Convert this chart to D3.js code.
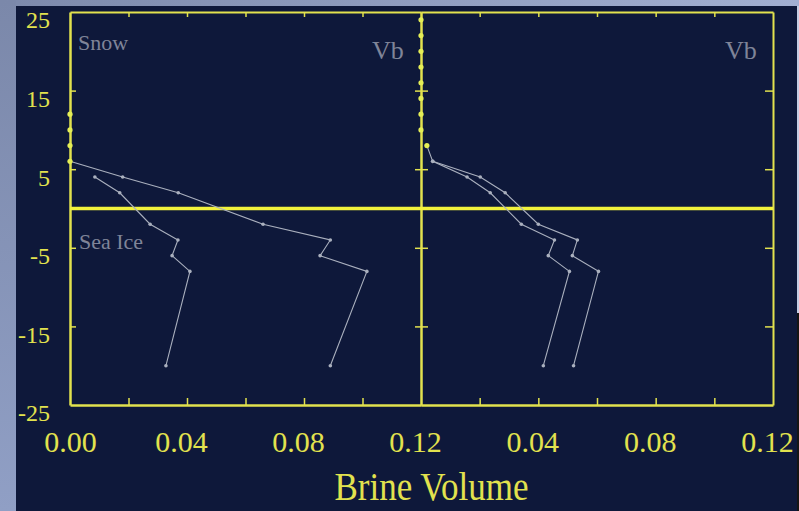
<!DOCTYPE html>
<html>
<head>
<meta charset="utf-8">
<script src="https://cdn.jsdelivr.net/npm/d3@7/dist/d3.min.js"></script>
<style>
  html, body { margin: 0; padding: 0; background: #0e183a; overflow: hidden; }
  svg { display: block; }
  text { font-family: "Liberation Serif", "DejaVu Serif", serif; }
</style>
</head>
<body>
<svg id="chart" width="799" height="511"></svg>
<script>
// Brine volume profiles through snow and sea ice (depth in cm, 0 = snow/ice interface)
const iceDepth        = [6, 4, 2, -2, -4, -6, -8, -20];
const vbLeftOuter     = [0, 0.018, 0.037, 0.066, 0.089, 0.0855, 0.1015, 0.089];
const vbLeftInner     = [null, 0.0085, 0.017, 0.0274, 0.0369, 0.0349, 0.041, 0.0328];
const snowDepthLeft   = [12, 10, 8, 6];

const rightDepth      = [8, 6, 4, 2, -2, -4, -6, -8, -20];
const vbRightInner    = [0.002, 0.004, 0.0157, 0.0236, 0.0342, 0.0455, 0.0434, 0.0506, 0.0417];
const vbRightOuter    = [null, 0.004, 0.0202, 0.0287, 0.040, 0.0533, 0.0516, 0.0605, 0.052];
const snowDepthRight  = [24, 22, 20, 18, 16, 14, 12, 10, 8];
const snowVbRight     = [0, 0, 0, 0, 0, 0, 0, 0, 0.002];

const depthTicks      = [25, 15, 5, -5, -15, -25];
const vbLabelsLeft    = [0, 0.04, 0.08, 0.12];
const vbLabelsRight   = [0.04, 0.08, 0.12];
const vbMinorTicks    = [0.02, 0.04, 0.06, 0.08, 0.10];
const interfaceDepth  = 0;

const svg = d3.select("#chart");
const W = 799, H = 511;

const yellow = "#e2e24e";
const yellowBright = "#f2f23c";
const grey = "#aab0be";
const dimText = "#7f8498";

// page backdrop: dark panel with the blue slide frame on the left and top
const defs = svg.append("defs");
const gv = defs.append("linearGradient").attr("id", "frameV").attr("x1", 0).attr("y1", 0).attr("x2", 0).attr("y2", 1);
gv.append("stop").attr("offset", 0).attr("stop-color", "#7b88aa");
gv.append("stop").attr("offset", 1).attr("stop-color", "#909fc5");
const gh = defs.append("linearGradient").attr("id", "frameH").attr("x1", 0).attr("y1", 0).attr("x2", 1).attr("y2", 0);
gh.append("stop").attr("offset", 0).attr("stop-color", "#7d8aac");
gh.append("stop").attr("offset", 1).attr("stop-color", "#a2afd2");

svg.append("rect").attr("width", W).attr("height", H).attr("fill", "#0e183a");
svg.append("rect").attr("x", 0).attr("y", 0).attr("width", 16).attr("height", H).attr("fill", "url(#frameV)");
svg.append("rect").attr("x", 16).attr("y", 0).attr("width", W - 16).attr("height", 6).attr("fill", "url(#frameH)");
svg.append("rect").attr("x", 797).attr("y", 6).attr("width", 2).attr("height", 307).attr("fill", "#c4cce2");
svg.append("rect").attr("x", 797).attr("y", 313).attr("width", 2).attr("height", H - 313).attr("fill", "#151515");

// scales
const y  = d3.scaleLinear().domain([-25, 25]).range([405, 12]);
const xL = d3.scaleLinear().domain([0, 0.12]).range([70, 421]);
const xR = d3.scaleLinear().domain([0, 0.12]).range([421, 773]);

function styleAxis(g, w) {
  g.selectAll("path.domain").attr("stroke", yellow).attr("stroke-width", w);
  g.selectAll(".tick line").attr("stroke", yellow).attr("stroke-width", 1.5);
}

// frame axes for both panels
[xL, xR].forEach(x => {
  svg.append("g").attr("transform", `translate(0,${y(25)})`)
    .call(d3.axisBottom(x).tickValues(vbMinorTicks).tickSize(5).tickSizeOuter(0).tickFormat(""))
    .call(g => styleAxis(g, 2));
  svg.append("g").attr("transform", `translate(0,${y(-25)})`)
    .call(d3.axisTop(x).tickValues(vbMinorTicks).tickSize(7).tickSizeOuter(0).tickFormat(""))
    .call(g => styleAxis(g, 2.5));
});

const innerDepthTicks = [15, 5, -5, -15];
svg.append("g").attr("transform", `translate(${xL(0)},0)`)
  .call(d3.axisRight(y).tickValues(innerDepthTicks).tickSize(6).tickSizeOuter(0).tickFormat(""))
  .call(g => styleAxis(g, 2.5));
svg.append("g").attr("transform", `translate(${xR(0)},0)`)
  .call(d3.axisRight(y).tickValues(innerDepthTicks).tickSize(7).tickSizeOuter(0).tickFormat(""))
  .call(g => styleAxis(g, 2));
svg.append("g").attr("transform", `translate(${xR(0)},0)`)
  .call(d3.axisLeft(y).tickValues(innerDepthTicks).tickSize(6).tickSizeOuter(0).tickFormat(""))
  .call(g => styleAxis(g, 2));
svg.append("g").attr("transform", `translate(${xR(0.12)},0)`)
  .call(d3.axisLeft(y).tickValues(innerDepthTicks).tickSize(8).tickSizeOuter(0).tickFormat(""))
  .call(g => styleAxis(g, 2));

// snow / ice interface
svg.append("line")
  .attr("x1", xL(0)).attr("x2", xR(0.12))
  .attr("y1", y(interfaceDepth)).attr("y2", y(interfaceDepth))
  .attr("stroke", yellowBright).attr("stroke-width", 3.5);

// depth labels (plain hyphen for negatives)
svg.append("g").attr("transform", `translate(${xL(0)},0)`)
  .call(d3.axisLeft(y).tickValues(depthTicks).tickSize(0).tickPadding(20).tickFormat(d => String(d)))
  .call(g => g.select(".domain").remove())
  .call(g => g.selectAll("text")
    .attr("fill", yellow).attr("font-size", 24).attr("dy", "0.66em")
    .attr("font-family", "'Liberation Serif', serif"));

// brine volume labels
function vbLabels(x, vals) {
  svg.append("g").attr("transform", `translate(0,${y(-25)})`)
    .call(d3.axisBottom(x).tickValues(vals).tickSize(0).tickPadding(26).tickFormat(d3.format(".2f")))
    .call(g => g.select(".domain").remove())
    .call(g => g.selectAll("text")
      .attr("fill", yellow).attr("font-size", 30)
      .attr("font-family", "'Liberation Serif', serif")
      .attr("dx", d => d === 0 ? 0 : -6));
}
vbLabels(xL, vbLabelsLeft);
vbLabels(xR, vbLabelsRight);

svg.append("text")
  .attr("transform", `translate(${(xL(0) + xR(0.12)) / 2 + 10},500) scale(1,1.12)`)
  .attr("text-anchor", "middle").attr("fill", yellow).attr("font-size", 35)
  .text("Brine Volume");

// panel annotations
const notes = [
  { text: "Snow", x: 78, y: 50, size: 22 },
  { text: "Sea Ice", x: 79, y: 249, size: 22 },
  { text: "Vb", x: 372, y: 59, size: 26 },
  { text: "Vb", x: 725, y: 59, size: 26 }
];
svg.selectAll("text.note").data(notes).join("text")
  .attr("class", "note")
  .attr("x", d => d.x).attr("y", d => d.y)
  .attr("font-size", d => d.size).attr("fill", dimText)
  .text(d => d.text);

// profiles
function profile(x, depths, vals) {
  const pts = depths.map((d, i) => ({ d, v: vals[i] })).filter(p => p.v !== null);
  svg.append("path")
    .datum(pts)
    .attr("fill", "none").attr("stroke", grey).attr("stroke-width", 1.1)
    .attr("d", d3.line().x(p => x(p.v)).y(p => y(p.d)));
  svg.append("g").selectAll("circle").data(pts).join("circle")
    .attr("cx", p => x(p.v)).attr("cy", p => y(p.d)).attr("r", 1.8)
    .attr("fill", grey);
}
profile(xL, iceDepth, vbLeftOuter);
profile(xL, iceDepth, vbLeftInner);
profile(xR, rightDepth, vbRightInner);
profile(xR, rightDepth, vbRightOuter);

// snow layer points lying on the zero axis
svg.append("g").selectAll("circle").data(snowDepthLeft).join("circle")
  .attr("cx", xL(0)).attr("cy", d => y(d)).attr("r", 2.6).attr("fill", "#e4ee56");
svg.append("g").selectAll("circle").data(snowDepthRight).join("circle")
  .attr("cx", (d, i) => xR(snowVbRight[i])).attr("cy", d => y(d)).attr("r", 2.6).attr("fill", "#e4ee56");
</script>
</body>
</html>
